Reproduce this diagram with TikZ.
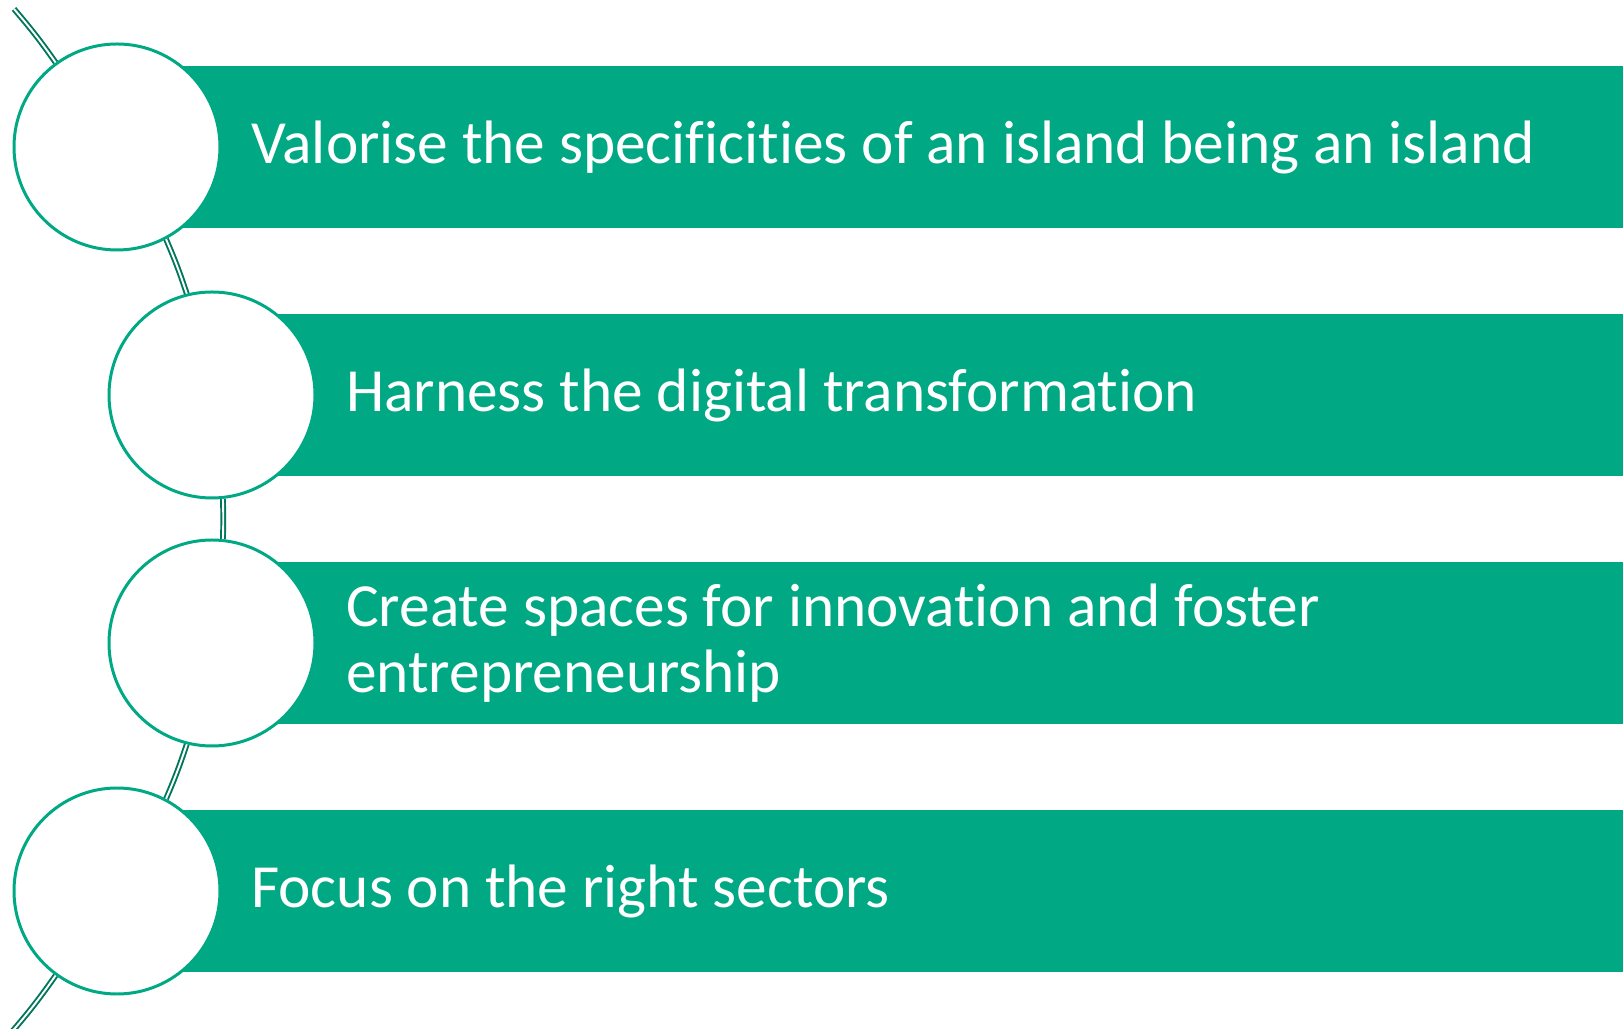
\documentclass[tikz,border=0pt]{standalone}
\usepackage{fontspec}
\setmainfont{Carlito}[Ligatures=NoCommon]
\usepackage{xcolor}
\usetikzlibrary{positioning}

\definecolor{bargreen}{RGB}{0,168,132}
\definecolor{linkgreen}{RGB}{0,118,90}

\tikzset{
  stepcircle/.style={circle, draw=bargreen, line width=0.85pt, fill=white, minimum size=2.06cm, inner sep=0pt},
  stepbar/.style={rectangle, fill=bargreen, minimum height=1.62cm, minimum width=15.3cm, anchor=west, inner sep=0pt},
  steptext/.style={text=white, align=left, inner sep=0pt, font=\fontsize{17.45}{18.8}\selectfont},
  link/.style={draw=linkgreen, double=white, line width=0.55pt, double distance=0.55pt}
}

\begin{document}
\begin{tikzpicture}
\useasboundingbox (0,0) rectangle (16.23,10.28);

% centres of the four steps
\coordinate (p1) at (1.17,8.81);
\coordinate (p2) at (2.12,6.33);
\coordinate (p3) at (2.12,3.85);
\coordinate (p4) at (1.17,1.37);

% green bars, starting behind the circles
\node[stepbar] (b1) at (p1) {};
\node[stepbar] (b2) at (p2) {};
\node[stepbar] (b3) at (p3) {};
\node[stepbar] (b4) at (p4) {};

% white circles on top
\node[stepcircle] (c1) at (p1) {};
\node[stepcircle] (c2) at (p2) {};
\node[stepcircle] (c3) at (p3) {};
\node[stepcircle] (c4) at (p4) {};

% Add texts
\node[steptext, right=0.29cm of c1.east] (t1) {Valorise the specificities of an island being an island};
\node[steptext, right=0.29cm of c2.east] (t2) {Harness the digital transformation};
\node[steptext, right=0.29cm of c3.east] (t3) {Create spaces for innovation and foster\\entrepreneurship};
\node[steptext, right=0.29cm of c4.east] (t4) {Focus on the right sectors};

% Add double line linking the circles (pieces of one large arc)
\coordinate (top) at (0.14,10.19);
\coordinate (bottom) at (0.10,-0.06);
\draw[link] (top) to[bend left=2.8] (c1.126);
\draw[link] (c1.-62) to[bend left=2.5] (c2.104);
\draw[link] (c2.-84) to[bend left=1.7] (c3.84);
\draw[link] (c3.-104) to[bend left=2.5] (c4.62);
\draw[link] (c4.-126) to[bend left=2.9] (bottom);

\end{tikzpicture}
\end{document}
